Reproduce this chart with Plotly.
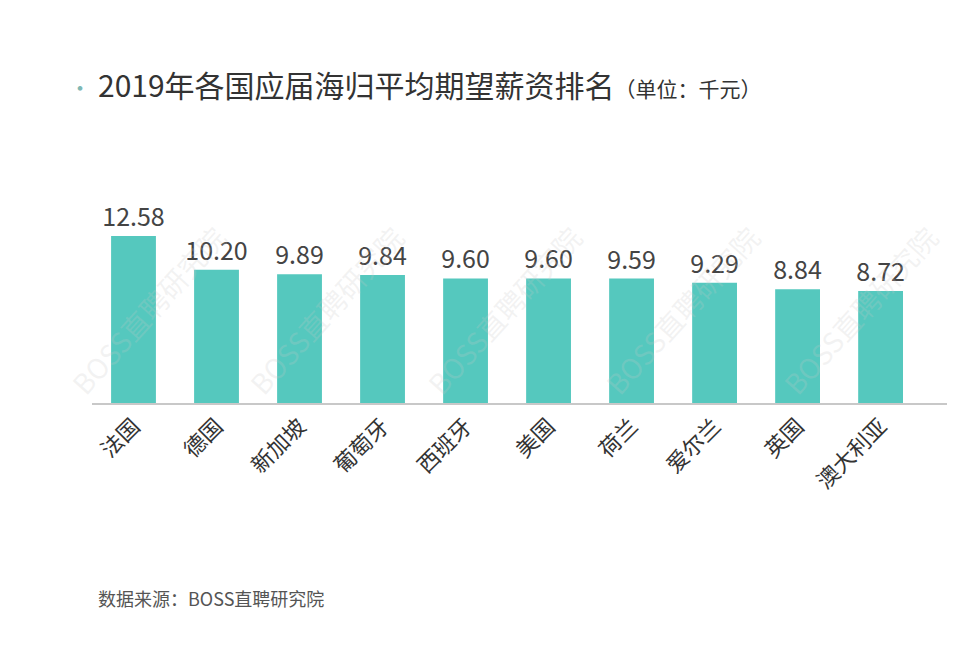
import plotly.graph_objects as go

countries = ["法国", "德国", "新加坡", "葡萄牙", "西班牙", "美国", "荷兰", "爱尔兰", "英国", "澳大利亚"]
salaries = [12.58, 10.20, 9.89, 9.84, 9.60, 9.60, 9.59, 9.29, 8.84, 8.72]
value_labels = ["12.58", "10.20", "9.89", "9.84", "9.60", "9.60", "9.59", "9.29", "8.84", "8.72"]

title_main = "2019年各国应届海归平均期望薪资排名"
title_unit = "（单位：千元）"
source_text = "数据来源：BOSS直聘研究院"
watermark = "BOSS直聘研究院"

FONT = "Noto Sans CJK SC"
W, H = 980, 663
left, right_px, top, bottom_px = 92, 947, 150, 403

fig = go.Figure()
fig.add_trace(go.Bar(
    x=list(range(len(countries))),
    y=salaries,
    text=value_labels,
    textposition="outside",
    constraintext="none",
    cliponaxis=False,
    textfont=dict(family=FONT, size=25, color="#444444"),
    marker=dict(color="#55c8be", line=dict(width=0)),
    width=0.54,
    hoverinfo="skip",
))

annotations = []
# watermarks
for i in range(5):
    annotations.append(dict(
        x=(148 + i * 178 - left) / (right_px - left), y=(bottom_px - 310) / (bottom_px - top),
        xref="paper", yref="paper", text=watermark, showarrow=False,
        xanchor="center", yanchor="middle",
        textangle=-48, font=dict(family=FONT, size=28, color="rgba(200,200,200,0.22)"),
    ))
# title dot
annotations.append(dict(
    x=(80 - left) / (right_px - left), y=(bottom_px - 86) / (bottom_px - top),
    xref="paper", yref="paper", text="·", showarrow=False,
    font=dict(family=FONT, size=22, color="#7fb8b4"), xanchor="center", yanchor="middle",
))
annotations.append(dict(
    x=(96 - left) / (right_px - left), y=(bottom_px - 84) / (bottom_px - top),
    xref="paper", yref="paper", showarrow=False, xanchor="left", yanchor="middle",
    text=title_main + "<span style='font-size:21px'>" + title_unit + "</span>",
    font=dict(family=FONT, size=30, color="#333333"),
))
annotations.append(dict(
    x=(96 - left) / (right_px - left), y=(bottom_px - 598) / (bottom_px - top),
    xref="paper", yref="paper", showarrow=False, xanchor="left", yanchor="middle",
    text=source_text, font=dict(family=FONT, size=18, color="#555555"),
))

fig.update_layout(
    width=W, height=H,
    margin=dict(l=left, r=W - right_px, t=top, b=H - bottom_px, pad=0),
    paper_bgcolor="white", plot_bgcolor="white",
    showlegend=False,
    annotations=annotations,
    xaxis=dict(
        tickmode="array", tickvals=list(range(len(countries))), ticktext=countries,
        tickangle=-45, range=[-0.5, 9.8],
        showgrid=False, zeroline=False, showline=True, linecolor="#c8c8c8", linewidth=1.5,
        ticks="", tickfont=dict(family=FONT, size=22, color="#333333"),
    ),
    yaxis=dict(range=[0.86, 18.61], visible=False, showgrid=False, zeroline=False),
)

fig.write_html("out.html")
